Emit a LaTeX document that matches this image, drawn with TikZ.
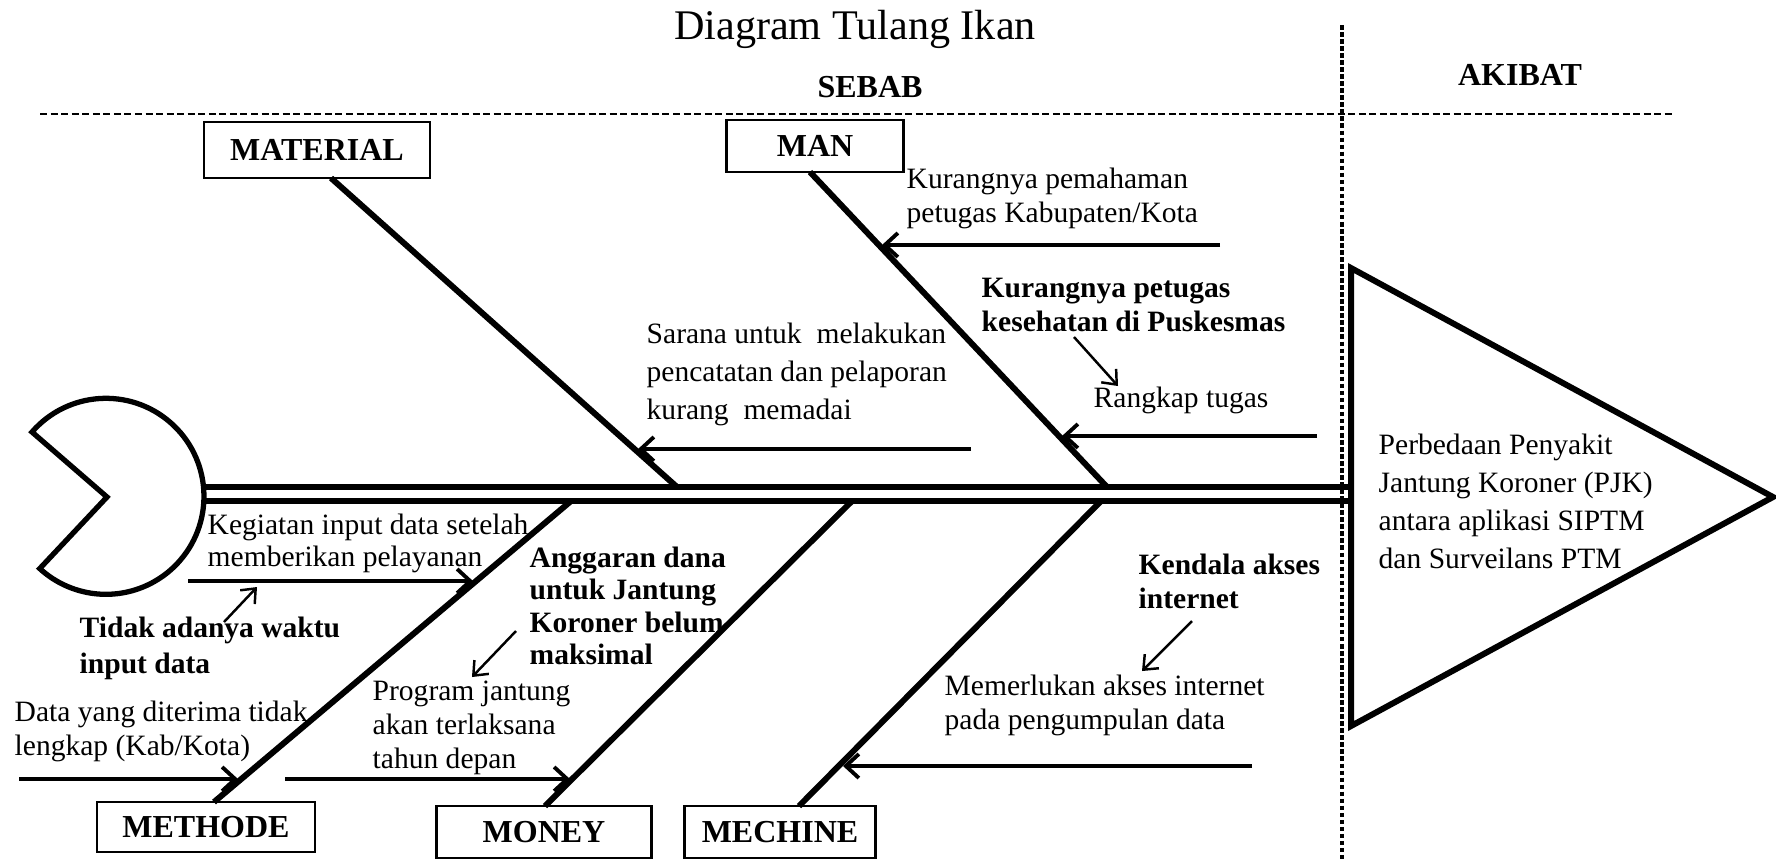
\documentclass[tikz,border=0pt]{standalone}
\usepackage{fontspec}
\setmainfont{Liberation Serif}
\usetikzlibrary{arrows.meta}

\begin{document}
\begin{tikzpicture}[x=0.01cm, y=-0.01cm]
  \tikzstyle{kotak}=[draw=black, line width=0.8pt, inner sep=0pt,
  font=\fontsize{9.1}{11}\selectfont\bfseries]
  \tikzstyle{tulang}=[line width=1.7pt]
  \tikzstyle{panah}=[-{Straight Barb[length=0.13cm, width=0.24cm]}, line width=1.1pt]
  \tikzstyle{panahkecil}=[-{Straight Barb[length=0.12cm, width=0.2cm]}, line width=0.7pt]
  \tikzstyle{teks}=[anchor=west, align=left, inner sep=0pt, font=\fontsize{8.4}{9.7}\selectfont]
  \tikzstyle{tebal}=[teks, font=\fontsize{8.4}{9.7}\selectfont\bfseries]
  \useasboundingbox (0,0) rectangle (1776,859);

  \draw (855,39) node[anchor=base, font=\fontsize{12}{14}\selectfont] (judul) {Diagram Tulang Ikan};
  \draw (870,97) node[anchor=base, font=\fontsize{9.1}{11}\selectfont\bfseries] (sebab) {SEBAB};
  \draw (1520,85) node[anchor=base, font=\fontsize{9.1}{11}\selectfont\bfseries] (akibat) {AKIBAT};
  \draw[line width=0.7pt, dash pattern=on 2pt off 1pt] (40,114) -- (1673,114);
  \draw[line width=1.1pt, dash pattern=on 1.3pt off 0.7pt] (1342,25) -- (1342,859);

  % kepala, ekor dan tulang belakang
  \draw[line width=1.5pt, line join=miter] (107,497) -- (32,432)
    arc[start angle=-139, end angle=132.5, radius=98] -- cycle;
  \draw[line width=1.7pt] (1351,268) -- (1773,497) -- (1351,726) -- cycle;
  \draw[line width=1.7pt] (204,487) -- (1351,487) (204,501) -- (1351,501);

  \foreach \n/\x/\y/\w/\h/\t in {mat/317/150/2.26/0.56/MATERIAL, man/815/146/1.77/0.52/MAN,
    met/206/827/2.18/0.50/METHODE, mon/544/832/2.15/0.52/MONEY, mec/780/832/1.91/0.52/MECHINE} {
    \draw (\x,\y) node[kotak, minimum width=\w cm, minimum height=\h cm] (\n) {\t};
  }

  \foreach \n/\x/\y in {ma/331/178, mb/677/487, na/810/172, nb/1107/487, ta/214/802, tb/571/501,
    ua/545/806, ub/852/501, ca/799/806, cb/1101/501} {
    \coordinate (\n) at (\x,\y);
  }
  \foreach \a/\b in {ma/mb, na/nb, ta/tb, ua/ub, ca/cb} {
    \draw[tulang] (\a) -- (\b);
  }

  \foreach \n/\x/\y in {p1/971/449, q1/638/449, p2/1220/245, q2/882/245, p3/1317/436, q3/1062/436,
    p4/188/581, q4/473/581, p5/19/779, q5/238/779, p6/285/779, q6/570/779, p7/1252/766, q7/843/766} {
    \coordinate (\n) at (\x,\y);
  }
  \foreach \a/\b in {p1/q1, p2/q2, p3/q3, p4/q4, p5/q5, p6/q6, p7/q7} {
    \draw[panah] (\a) -- (\b);
  }

  \foreach \n/\x/\y in {r1/1074/337, s1/1118/386, r2/224/622, s2/257/587, r3/516/631, s3/472/677,
    r4/1192/621, s4/1142/671} {
    \coordinate (\n) at (\x,\y);
  }
  \foreach \a/\b in {r1/s1, r2/s2, r3/s3, r4/s4} {
    \draw[panahkecil] (\a) -- (\b);
  }

  \draw (906,198) node[teks] (k1) {Kurangnya pemahaman\\petugas Kabupaten/Kota};
  \draw (981,305) node[tebal] (k2) {Kurangnya petugas\\kesehatan di Puskesmas};
  \draw (1093,400) node[teks] (k3) {Rangkap tugas};
  \draw (646,374) node[teks, font=\fontsize{8.4}{10.8}\selectfont] (k4)
    {Sarana untuk\ \ melakukan\\pencatatan dan pelaporan\\kurang\ \ memadai};
  \draw (207,543) node[teks, font=\fontsize{8.4}{9.1}\selectfont] (k5)
    {Kegiatan input data setelah\\memberikan pelayanan};
  \draw (79,648) node[tebal, font=\fontsize{8.4}{10.2}\selectfont\bfseries] (k6) {Tidak adanya waktu\\input data};
  \draw (14,731) node[teks] (k7) {Data yang diterima tidak\\lengkap (Kab/Kota)};
  \draw (529,606) node[tebal, font=\fontsize{8.4}{9.25}\selectfont\bfseries] (k8)
    {Anggaran dana\\untuk Jantung\\Koroner belum\\maksimal};
  \draw (372,728) node[teks] (k9) {Program jantung\\akan terlaksana\\tahun depan};
  \draw (1138,581) node[tebal] (k10) {Kendala akses\\internet};
  \draw (944,705) node[teks] (k11) {Memerlukan akses internet\\pada pengumpulan data};
  \draw (1378,501) node[teks, font=\fontsize{8.4}{10.8}\selectfont] (k12)
    {Perbedaan Penyakit\\Jantung Koroner (PJK)\\antara aplikasi SIPTM\\dan Surveilans PTM};
\end{tikzpicture}
\end{document}
